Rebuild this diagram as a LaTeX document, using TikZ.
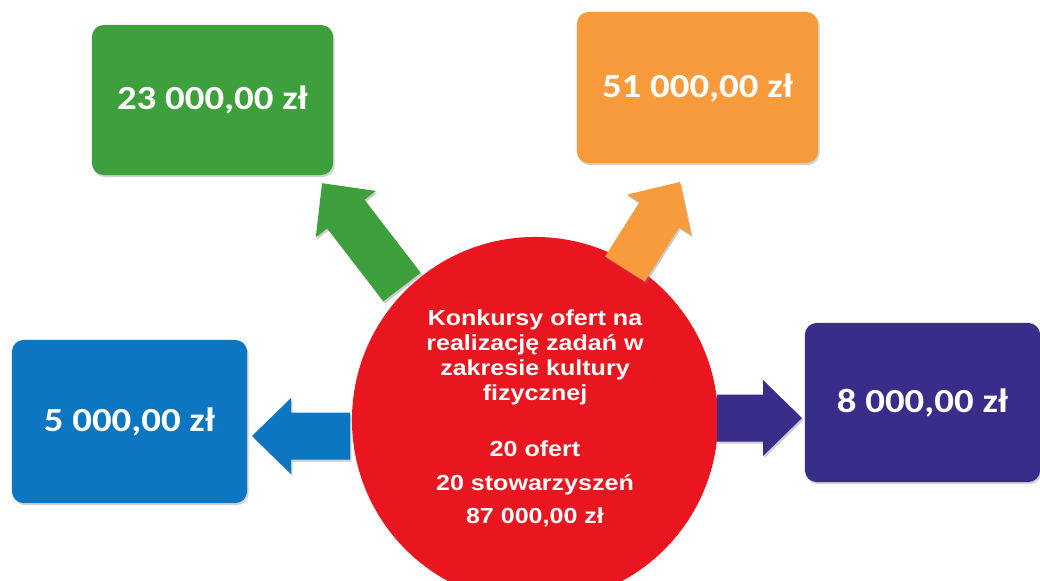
\documentclass[tikz,border=0pt]{standalone}
\usepackage{fontspec}
\newfontfamily\boxfont[FakeStretch=1.15]{Carlito}
\newfontfamily\circfont[FakeStretch=1.15]{Liberation Sans}
\usetikzlibrary{shadows}
\definecolor{zielony}{RGB}{62,160,60}
\definecolor{pomaranczowy}{RGB}{247,155,60}
\definecolor{niebieski}{RGB}{12,118,192}
\definecolor{fioletowy}{RGB}{57,45,138}
\definecolor{czerwony}{RGB}{233,22,32}

\begin{document}
\begin{tikzpicture}[x=0.025cm,y=-0.025cm,
    pole/.style={rectangle, rounded corners=0.3cm, inner sep=0, text=white,
        font=\boxfont\bfseries\fontsize{24}{28}\selectfont,
        drop shadow={shadow xshift=1pt, shadow yshift=-1.5pt, opacity=0.35}},
    cien/.style={drop shadow={shadow xshift=1pt, shadow yshift=-1.5pt, opacity=0.4}}]
    \useasboundingbox[fill=white] (0,0) rectangle (1040,580);

    % kolo
    \node[circle, fill=czerwony, minimum size=9.15cm, inner sep=0] (kolo) at (535,420) {};

    % pola
    \node[pole, fill=zielony, minimum width=6.03cm, minimum height=3.75cm] (p23) at (212.5,100) {23 000,00 zł};
    \node[pole, fill=pomaranczowy, minimum width=6.03cm, minimum height=3.78cm] (p51) at (697.5,87.5) {51 000,00 zł};
    \node[pole, fill=niebieski, minimum width=5.88cm, minimum height=4.08cm] (p5) at (129.5,421.5) {5 000,00 zł};
    \node[pole, fill=fioletowy, minimum width=5.88cm, minimum height=3.98cm] (p8) at (922.5,402.5) {8 000,00 zł};

    % strzalki
    \foreach \x/\y/\kat/\dl/\kol in {402/287/127.6/131/zielony, 625/269/57.7/103/pomaranczowy,
        350/436/180/98/niebieski, 717/418/0/85/fioletowy}{
        \begin{scope}[shift={(\x,\y)}, rotate=\kat]
            \fill[\kol, cien] (0,-23.5) -- ({\dl-39},-23.5) -- ({\dl-39},-38) -- (\dl,0)
                -- ({\dl-39},38) -- ({\dl-39},23.5) -- (0,23.5) -- cycle;
        \end{scope}
    }

    % opis
    \node[anchor=north, inner sep=0, align=center, text=white,
        font=\circfont\bfseries\fontsize{15.5}{17.8}\selectfont] (opis) at (535,309)
        {Konkursy ofert na\\ realizację zadań w\\ zakresie kultury\\ fizycznej\\[22pt]
         20 ofert\\[6.4pt] 20 stowarzyszeń\\[5.7pt] 87 000,00 zł};
\end{tikzpicture}
\end{document}
